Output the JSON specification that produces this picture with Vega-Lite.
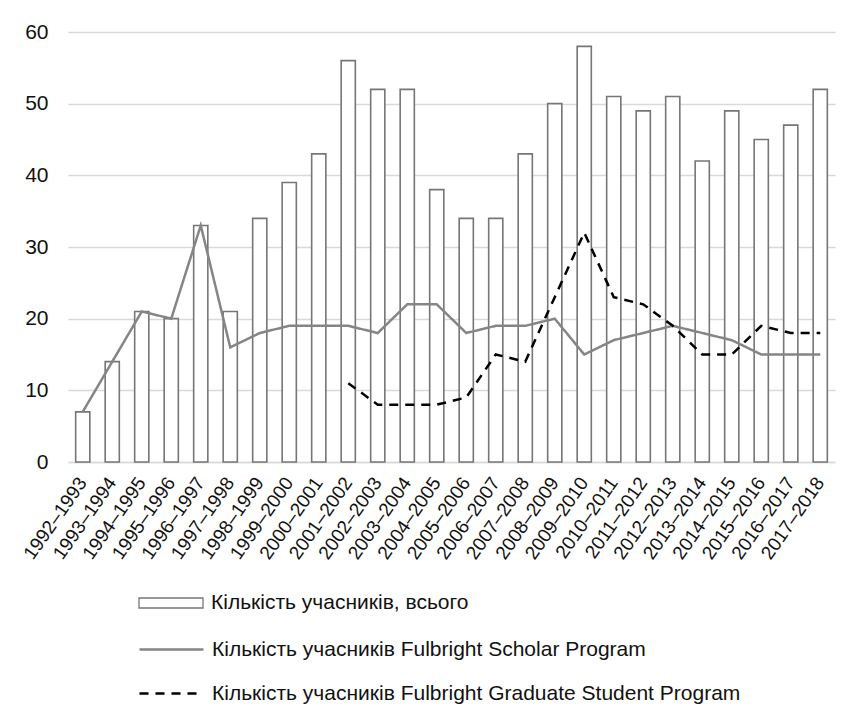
{
  "$schema": "https://vega.github.io/schema/vega-lite/v6.json",
  "autosize": "none",
  "width": 767,
  "height": 430,
  "padding": {"left": 68, "top": 32, "right": 24, "bottom": 260},
  "background": "white",
  "config": {
    "view": {"stroke": null},
    "font": "Liberation Sans",
    "legend": {
      "title": null,
      "orient": "none",
      "direction": "vertical",
      "padding": 0,
      "labelFont": "Liberation Sans",
      "labelFontSize": 21,
      "labelColor": "#111111",
      "labelLimit": 800,
      "labelOffset": 51,
      "symbolSize": 400,
      "rowPadding": 22
    }
  },
  "data": {
    "values": [
      {"period": "1992–1993", "series": "Кількість учасників, всього", "value": 7},
      {"period": "1993–1994", "series": "Кількість учасників, всього", "value": 14},
      {"period": "1994–1995", "series": "Кількість учасників, всього", "value": 21},
      {"period": "1995–1996", "series": "Кількість учасників, всього", "value": 20},
      {"period": "1996–1997", "series": "Кількість учасників, всього", "value": 33},
      {"period": "1997–1998", "series": "Кількість учасників, всього", "value": 21},
      {"period": "1998–1999", "series": "Кількість учасників, всього", "value": 34},
      {"period": "1999–2000", "series": "Кількість учасників, всього", "value": 39},
      {"period": "2000–2001", "series": "Кількість учасників, всього", "value": 43},
      {"period": "2001–2002", "series": "Кількість учасників, всього", "value": 56},
      {"period": "2002–2003", "series": "Кількість учасників, всього", "value": 52},
      {"period": "2003–2004", "series": "Кількість учасників, всього", "value": 52},
      {"period": "2004–2005", "series": "Кількість учасників, всього", "value": 38},
      {"period": "2005–2006", "series": "Кількість учасників, всього", "value": 34},
      {"period": "2006–2007", "series": "Кількість учасників, всього", "value": 34},
      {"period": "2007–2008", "series": "Кількість учасників, всього", "value": 43},
      {"period": "2008–2009", "series": "Кількість учасників, всього", "value": 50},
      {"period": "2009–2010", "series": "Кількість учасників, всього", "value": 58},
      {"period": "2010–2011", "series": "Кількість учасників, всього", "value": 51},
      {"period": "2011–2012", "series": "Кількість учасників, всього", "value": 49},
      {"period": "2012–2013", "series": "Кількість учасників, всього", "value": 51},
      {"period": "2013–2014", "series": "Кількість учасників, всього", "value": 42},
      {"period": "2014–2015", "series": "Кількість учасників, всього", "value": 49},
      {"period": "2015–2016", "series": "Кількість учасників, всього", "value": 45},
      {"period": "2016–2017", "series": "Кількість учасників, всього", "value": 47},
      {"period": "2017–2018", "series": "Кількість учасників, всього", "value": 52},

      {"period": "1992–1993", "series": "Кількість учасників Fulbright Scholar Program", "value": 7},
      {"period": "1993–1994", "series": "Кількість учасників Fulbright Scholar Program", "value": 14},
      {"period": "1994–1995", "series": "Кількість учасників Fulbright Scholar Program", "value": 21},
      {"period": "1995–1996", "series": "Кількість учасників Fulbright Scholar Program", "value": 20},
      {"period": "1996–1997", "series": "Кількість учасників Fulbright Scholar Program", "value": 33},
      {"period": "1997–1998", "series": "Кількість учасників Fulbright Scholar Program", "value": 16},
      {"period": "1998–1999", "series": "Кількість учасників Fulbright Scholar Program", "value": 18},
      {"period": "1999–2000", "series": "Кількість учасників Fulbright Scholar Program", "value": 19},
      {"period": "2000–2001", "series": "Кількість учасників Fulbright Scholar Program", "value": 19},
      {"period": "2001–2002", "series": "Кількість учасників Fulbright Scholar Program", "value": 19},
      {"period": "2002–2003", "series": "Кількість учасників Fulbright Scholar Program", "value": 18},
      {"period": "2003–2004", "series": "Кількість учасників Fulbright Scholar Program", "value": 22},
      {"period": "2004–2005", "series": "Кількість учасників Fulbright Scholar Program", "value": 22},
      {"period": "2005–2006", "series": "Кількість учасників Fulbright Scholar Program", "value": 18},
      {"period": "2006–2007", "series": "Кількість учасників Fulbright Scholar Program", "value": 19},
      {"period": "2007–2008", "series": "Кількість учасників Fulbright Scholar Program", "value": 19},
      {"period": "2008–2009", "series": "Кількість учасників Fulbright Scholar Program", "value": 20},
      {"period": "2009–2010", "series": "Кількість учасників Fulbright Scholar Program", "value": 15},
      {"period": "2010–2011", "series": "Кількість учасників Fulbright Scholar Program", "value": 17},
      {"period": "2011–2012", "series": "Кількість учасників Fulbright Scholar Program", "value": 18},
      {"period": "2012–2013", "series": "Кількість учасників Fulbright Scholar Program", "value": 19},
      {"period": "2013–2014", "series": "Кількість учасників Fulbright Scholar Program", "value": 18},
      {"period": "2014–2015", "series": "Кількість учасників Fulbright Scholar Program", "value": 17},
      {"period": "2015–2016", "series": "Кількість учасників Fulbright Scholar Program", "value": 15},
      {"period": "2016–2017", "series": "Кількість учасників Fulbright Scholar Program", "value": 15},
      {"period": "2017–2018", "series": "Кількість учасників Fulbright Scholar Program", "value": 15},

      {"period": "2001–2002", "series": "Кількість учасників Fulbright Graduate Student Program", "value": 11},
      {"period": "2002–2003", "series": "Кількість учасників Fulbright Graduate Student Program", "value": 8},
      {"period": "2003–2004", "series": "Кількість учасників Fulbright Graduate Student Program", "value": 8},
      {"period": "2004–2005", "series": "Кількість учасників Fulbright Graduate Student Program", "value": 8},
      {"period": "2005–2006", "series": "Кількість учасників Fulbright Graduate Student Program", "value": 9},
      {"period": "2006–2007", "series": "Кількість учасників Fulbright Graduate Student Program", "value": 15},
      {"period": "2007–2008", "series": "Кількість учасників Fulbright Graduate Student Program", "value": 14},
      {"period": "2008–2009", "series": "Кількість учасників Fulbright Graduate Student Program", "value": 23},
      {"period": "2009–2010", "series": "Кількість учасників Fulbright Graduate Student Program", "value": 32},
      {"period": "2010–2011", "series": "Кількість учасників Fulbright Graduate Student Program", "value": 23},
      {"period": "2011–2012", "series": "Кількість учасників Fulbright Graduate Student Program", "value": 22},
      {"period": "2012–2013", "series": "Кількість учасників Fulbright Graduate Student Program", "value": 19},
      {"period": "2013–2014", "series": "Кількість учасників Fulbright Graduate Student Program", "value": 15},
      {"period": "2014–2015", "series": "Кількість учасників Fulbright Graduate Student Program", "value": 15},
      {"period": "2015–2016", "series": "Кількість учасників Fulbright Graduate Student Program", "value": 19},
      {"period": "2016–2017", "series": "Кількість учасників Fulbright Graduate Student Program", "value": 18},
      {"period": "2017–2018", "series": "Кількість учасників Fulbright Graduate Student Program", "value": 18}
    ]
  },
  "encoding": {
    "x": {
      "field": "period",
      "type": "ordinal",
      "sort": null,
      "title": null,
      "scale": {"type": "band", "paddingInner": 0.52, "paddingOuter": 0.26},
      "axis": {
        "labelAngle": -55,
        "labelFont": "Liberation Sans",
        "labelFontSize": 19,
        "labelColor": "#111111",
        "labelPadding": 17,
        "labelDy": 3,
        "ticks": false,
        "domainColor": "#d9d9d9",
        "domainWidth": 1.5,
        "labelLimit": 200
      }
    },
    "y": {
      "field": "value",
      "type": "quantitative",
      "title": null,
      "scale": {"domain": [0, 60], "nice": false},
      "axis": {
        "values": [0, 10, 20, 30, 40, 50, 60],
        "labelFont": "Liberation Sans",
        "labelFontSize": 21,
        "labelColor": "#111111",
        "labelPadding": 20,
        "ticks": false,
        "domain": false,
        "gridColor": "#d9d9d9",
        "gridWidth": 1.5
      }
    }
  },
  "layer": [
    {
      "transform": [{"filter": "datum.series === 'Кількість учасників, всього'"}],
      "mark": {"type": "bar", "stroke": "#767676", "strokeWidth": 1.6},
      "encoding": {
        "fill": {
          "field": "series",
          "type": "nominal",
          "scale": {"domain": ["Кількість учасників, всього"], "range": ["#ffffff"]},
          "legend": {
            "legendX": 70,
            "legendY": 560,
            "symbolType": "M-1,-0.5H5.4V0.5H-1Z",
            "symbolStrokeColor": "#767676",
            "symbolStrokeWidth": 1.3,
            "symbolOpacity": 1
          }
        }
      }
    },
    {
      "transform": [{"filter": "datum.series !== 'Кількість учасників, всього'"}],
      "mark": {"type": "line", "strokeWidth": 2.5},
      "encoding": {
        "stroke": {
          "field": "series",
          "type": "nominal",
          "scale": {
            "domain": ["Кількість учасників Fulbright Scholar Program", "Кількість учасників Fulbright Graduate Student Program"],
            "range": ["#858585", "#000000"]
          },
          "legend": {
            "legendX": 70,
            "legendY": 606,
            "symbolType": "M-1,0H5.4",
            "symbolStrokeWidth": 2.5,
            "symbolFillColor": "transparent"
          }
        },
        "strokeDash": {
          "field": "series",
          "type": "nominal",
          "scale": {
            "domain": ["Кількість учасників Fulbright Scholar Program", "Кількість учасників Fulbright Graduate Student Program"],
            "range": [[1, 0], [9, 7]]
          },
          "legend": {
            "legendX": 70,
            "legendY": 606,
            "symbolType": "M-1,0H5.4",
            "symbolStrokeWidth": 2.5,
            "symbolFillColor": "transparent"
          }
        }
      }
    }
  ]
}
